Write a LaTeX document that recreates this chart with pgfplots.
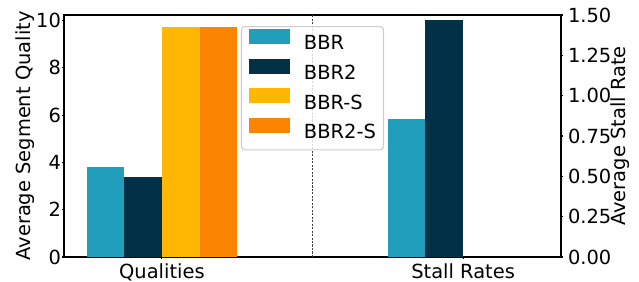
\documentclass[border=0pt]{standalone}
\usepackage{fontspec}
\setmainfont{DejaVu Sans}
\usepackage{pgfplots}
\pgfplotsset{compat=1.18}
\definecolor{cBBR}{HTML}{219EBC}
\definecolor{cBBRtwo}{HTML}{023047}
\definecolor{cBBRS}{HTML}{FFB703}
\definecolor{cBBRtwoS}{HTML}{FB8500}
\pgfplotsset{
  patchlegend/.style={legend image code/.code={\path[##1, draw=none, fill opacity=1, sharp corners] (0pt,0pt) rectangle (29.5pt,10.8pt);}},
  common/.style={
    at={(0,0)}, anchor=south west,
    scale only axis, width=357.84pt, height=174.24pt,
    xmin=-0.325, xmax=1.325, ymin=0,
    ybar, bar width=0.125, bar shift=0,
    tick align=outside, major tick length=1.5pt,
    tick style={black, line width=0.8pt},
    axis line style={line width=0.8pt},
    ticklabel style={font=\fontsize{14}{16.8}\selectfont},
    label style={font=\fontsize{14}{16.8}\selectfont},
    /pgf/number format/assume math mode=true,
    scaled y ticks=false,
  },
}
\begin{document}
\begin{tikzpicture}
\path[use as bounding box] (-46.08pt,-18pt) rectangle (414pt,185.04pt);
\begin{axis}[common,
  ymax=10.232,
  xtick={0,1}, xticklabels={Qualities,Stall Rates},
  ytick={0,2,4,6,8,10},
  xtick pos=bottom, ytick pos=left,
  yticklabel style={inner sep=0.5pt},
  ylabel={Average Segment Quality},
  ylabel style={at={(axis description cs:-0.0785,0.5)}, anchor=center},
  legend cell align=left,
  legend style={at={(0.5,0.9545)}, anchor=north, draw=black!20, line width=0.8pt,
    rounded corners=2.5pt, fill=white, fill opacity=0.8, draw opacity=1, text opacity=1,
    font=\fontsize{14}{16.8}\selectfont, inner xsep=5.5pt, inner ysep=1.7pt, row sep=0pt,
    nodes={inner sep=0pt, text height=14.9pt, text depth=6.2pt},
    /tikz/every odd column/.append style={column sep=10pt}},
]
\addplot[fill=cBBR, draw=none, patchlegend] coordinates {(-0.1875,3.82)};
\addlegendentry{BBR}
\addplot[fill=cBBRtwo, draw=none, patchlegend] coordinates {(-0.0625,3.39)};
\addlegendentry{BBR2}
\addplot[fill=cBBRS, draw=none, patchlegend] coordinates {(0.0625,9.745)};
\addlegendentry{BBR-S}
\addplot[fill=cBBRtwoS, draw=none, patchlegend] coordinates {(0.1875,9.745)};
\addlegendentry{BBR2-S}
\draw[black!75, line width=0.5pt, dash pattern=on 1.5pt off 1pt] (axis cs:0.5,0) -- (axis cs:0.5,10.232);
\end{axis}
\begin{axis}[common,
  ymax=1.5,
  axis x line=none, axis y line*=right,
  axis line style={-},
  ytick={0,0.25,0.5,0.75,1,1.25,1.5},
  yticklabel style={/pgf/number format/.cd, fixed, fixed zerofill, precision=2},
  ylabel={Average Stall Rate},
  ylabel style={at={(axis description cs:1.1187,0.5)}, anchor=center},
]
\addplot[fill=cBBR, draw=none] coordinates {(0.8125,0.855)};
\addplot[fill=cBBRtwo, draw=none] coordinates {(0.9375,1.469)};
\end{axis}
\end{tikzpicture}
\end{document}
